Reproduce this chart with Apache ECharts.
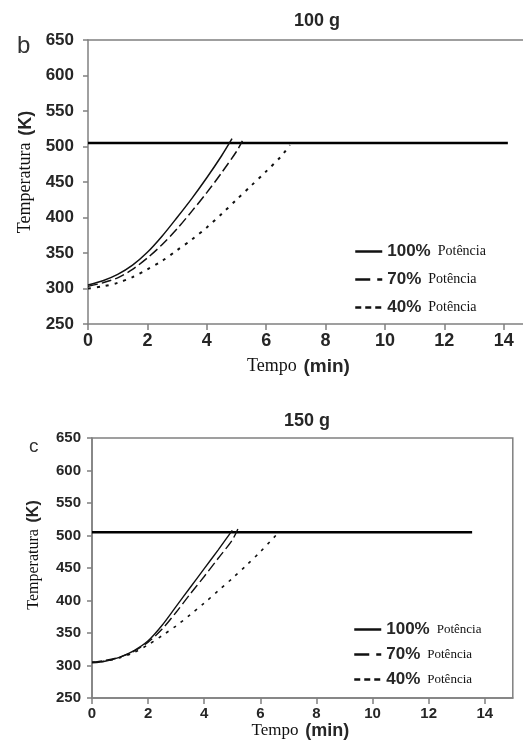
<!DOCTYPE html>
<html>
<head>
<meta charset="utf-8">
<script src="https://cdn.jsdelivr.net/npm/echarts@6/dist/echarts.min.js"></script>
<style>html,body{margin:0;padding:0;background:#fff}#c{width:523px;height:745px}</style>
</head>
<body>
<div id="c"></div>
<script>
// ---- data ----
const seriesNames = ['100%', '70%', '40%'];
const legendWord = 'Potência';
const xTicks = [0, 2, 4, 6, 8, 10, 12, 14];
const yTicks = [250, 300, 350, 400, 450, 500, 550, 600, 650];

// Panel b: 100 g  [time (min), temperature (K)]
const b100 = [[0,305],[0.5,311],[1,320],[1.5,333],[2,351],[2.5,374],[3,400],[3.5,427],[4,456],[4.5,487],[4.85,511]];
const b70  = [[0,303],[0.5,308],[1,315],[1.5,327],[2,343],[2.5,362],[3,384],[3.5,409],[4,435],[4.5,463],[5,493],[5.2,508]];
const b40  = [[0,300],[0.5,303],[1,308],[1.5,316],[2,327],[2.5,339],[3,354],[3.5,369],[4,386],[4.5,405],[5,425],[5.5,445],[6,465],[6.5,486],[6.8,502]];
const bRef = [[0,505],[14.14,505]];

// Panel c: 150 g
const c100 = [[0,304],[0.5,307],[1,313],[1.5,323],[2,338],[2.5,362],[3,391],[3.5,420],[4,449],[4.5,478],[5,508]];
const c70  = [[0,305],[0.5,308],[1,313],[1.5,322],[2,336],[2.5,356],[3,382],[3.5,410],[4,437],[4.5,465],[5,493],[5.2,510]];
const c40  = [[0,305],[0.5,307],[1,312],[1.5,320],[2,332],[2.5,346],[3,361],[3.5,378],[4,396],[4.5,415],[5,434],[5.5,454],[6,475],[6.55,500]];
const cRef = [[0,505],[13.55,505]];

const AX = '#808080';
const TXT = '#262626';

function xAxis(gi, max, fs, gap, nameFs1, nameFs2, pad) {
  return {
    gridIndex: gi, type: 'value', min: 0, max: max, interval: 2,
    axisLine: {lineStyle: {color: AX, width: 1.5}},
    axisTick: {length: 6, lineStyle: {color: AX, width: 1.5}},
    splitLine: {show: false},
    axisLabel: {color: TXT, fontFamily: 'Liberation Sans', fontWeight: 'bold', fontSize: fs, margin: 8, showMaxLabel: false,
      formatter: v => xTicks.indexOf(v) >= 0 ? String(v) : ''},
    name: '{s|Tempo}  {b|(min)}', nameLocation: 'middle', nameGap: gap,
    nameTextStyle: {padding: pad, rich: {
      s: {fontFamily: 'Liberation Serif', fontSize: nameFs1, color: '#111'},
      b: {fontFamily: 'Liberation Sans', fontWeight: 'bold', fontSize: nameFs2, color: TXT}
    }}
  };
}
function yAxis(gi, fs, margin, gap, nfs, pad) {
  return {
    gridIndex: gi, type: 'value', min: yTicks[0], max: yTicks[yTicks.length-1], interval: 50,
    axisLine: {show: true, lineStyle: {color: AX, width: 1.5}},
    axisTick: {show: true, length: 5, lineStyle: {color: AX, width: 1.5}},
    splitLine: {show: false},
    axisLabel: {color: TXT, fontFamily: 'Liberation Sans', fontWeight: 'bold', fontSize: fs, margin: margin},
    name: '{s|Temperatura}  {b|(K)}', nameLocation: 'middle', nameGap: gap, nameRotate: 90,
    nameTextStyle: {padding: pad, rich: {
      s: {fontFamily: 'Liberation Serif', fontSize: nfs, color: '#111'},
      b: {fontFamily: 'Liberation Sans', fontWeight: 'bold', fontSize: nfs, color: TXT}
    }}
  };
}
function ln(name, data, xi, type, width) {
  return {name: name, type: 'line', xAxisIndex: xi, yAxisIndex: xi, data: data, symbol: 'none',
    smooth: 0.3, itemStyle: {color: '#111'}, lineStyle: {color: '#111', width: width, type: type}, z: 3};
}
function ref(data, xi) {
  return {name: 'ref', type: 'line', xAxisIndex: xi, yAxisIndex: xi, data: data, symbol: 'none',
    lineStyle: {color: '#000', width: 2.6}, z: 2};
}
const hidden = {color: 'rgba(0,0,0,0)', borderWidth: 0, opacity: 0};
function legend(top, left, gap, qfs) {
  return {
    orient: 'vertical', left: left, top: top, itemWidth: 27, itemHeight: 14, itemGap: gap, padding: 0,
    selectedMode: false,
    data: [
      {name: seriesNames[0], itemStyle: hidden, lineStyle: {type: 'solid', width: 2.5, color: '#111'}},
      {name: seriesNames[1], itemStyle: hidden, lineStyle: {type: [15, 7], width: 2.5, color: '#111'}},
      {name: seriesNames[2], itemStyle: hidden, lineStyle: {type: [6, 4], width: 2.5, color: '#111'}}
    ],
    formatter: n => '{p|' + n + '}{q|' + legendWord + '}',
    textStyle: {rich: {
      p: {fontFamily: 'Liberation Sans', fontWeight: 'bold', fontSize: 17, color: TXT},
      q: {fontFamily: 'Liberation Serif', fontSize: qfs, color: '#111', padding: [0, 0, 0, 7]}
    }}
  };
}

const topX = xAxis(0, 14.65, 18, 33, 18, 19, [0, 14, 0, 0]);
const topBorder = {gridIndex: 0, type: 'value', min: 0, max: 14.65, position: 'top',
  axisLine: {show: true, lineStyle: {color: AX, width: 1.5}}, axisTick: {show: false},
  axisLabel: {show: false}, splitLine: {show: false}};

const chart = echarts.init(document.getElementById('c'), null, {renderer: 'canvas'});
chart.setOption({
  animation: false,
  backgroundColor: '#fff',
  title: [
    {text: '100 g', left: 312, top: 7, textAlign: 'center', textStyle: {fontFamily: 'Liberation Sans', fontWeight: 'bold', fontSize: 18, color: TXT}},
    {text: '150 g', left: 302, top: 407, textAlign: 'center', textStyle: {fontFamily: 'Liberation Sans', fontWeight: 'bold', fontSize: 18, color: TXT}},
    {text: 'b', left: 12, top: 29, textStyle: {fontFamily: 'Liberation Sans', fontWeight: 'normal', fontSize: 24, color: '#333'}},
    {text: 'c', left: 24, top: 432, textStyle: {fontFamily: 'Liberation Sans', fontWeight: 'normal', fontSize: 19, color: '#333'}}
  ],
  grid: [
    {left: 88, top: 40, width: 435.1, height: 284, show: false},
    {left: 92, top: 438, width: 420.8, height: 260, show: true, borderColor: AX, borderWidth: 1.5, backgroundColor: 'transparent'}
  ],
  xAxis: [topX, xAxis(1, 15, 15, 24, 17, 18, [0, 4, 0, 0]), topBorder],
  yAxis: [yAxis(0, 17, 14, 52, 18, [0, 0, 0, 20]), yAxis(1, 15, 11, 50, 16, [0, 0, 0, 26])],
  legend: [legend(243, 354, 11, 14), legend(621, 353, 8, 13)],
  series: [
    ref(bRef, 0),
    ln(seriesNames[0], b100, 0, 'solid', 1.5),
    ln(seriesNames[1], b70, 0, [10, 4], 1.5),
    ln(seriesNames[2], b40, 0, [3, 6], 2),
    ref(cRef, 1),
    ln(seriesNames[0], c100, 1, 'solid', 1.4),
    ln(seriesNames[1], c70, 1, [10, 4], 1.4),
    ln(seriesNames[2], c40, 1, [3, 6], 1.6)
  ]
});
</script>
</body>
</html>
